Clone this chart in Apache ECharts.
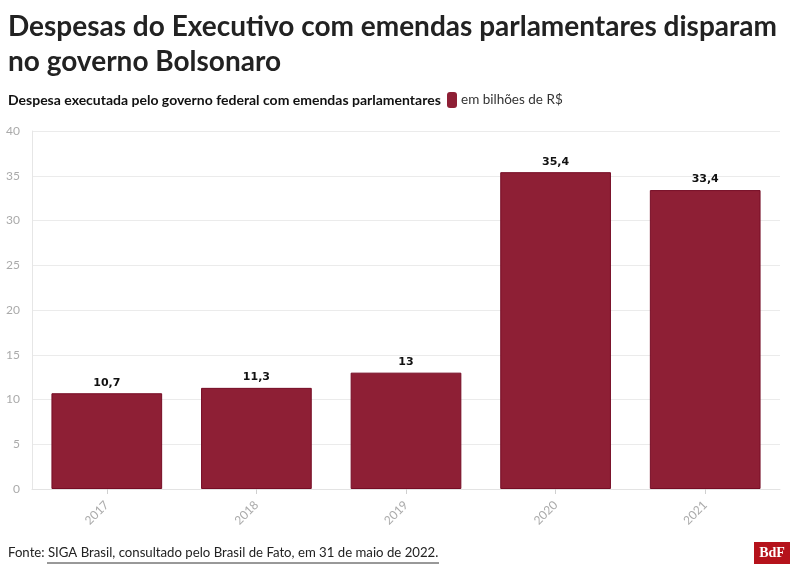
<!DOCTYPE html>
<html><head><meta charset="utf-8">
<script src="https://cdn.jsdelivr.net/npm/echarts@6/dist/echarts.min.js"></script>
<style>html,body{margin:0;padding:0;background:#fff}#c{width:800px;height:577px}</style>
</head><body><div id="c"></div>
<script>
const categories = ['2017','2018','2019','2020','2021'];
const values = [10.7, 11.3, 13, 35.4, 33.4];
const yTicks = [0,5,10,15,20,25,30,35,40];

const FONT = 'Lato';
const chart = echarts.init(document.getElementById('c'), null, {renderer:'canvas'});
chart.setOption({
  animation:false,
  backgroundColor:'#fff',
  grid:{left:32,right:20,top:131,bottom:88},
  xAxis:{type:'category',data:categories,
    axisLine:{show:true,lineStyle:{color:'#e3e3e3'}},
    axisTick:{show:true,alignWithLabel:true,length:5,lineStyle:{color:'#d0d0d0'}},
    axisLabel:{rotate:45,color:'#aaa',fontFamily:FONT,fontSize:12,margin:14}},
  yAxis:{type:'value',min:0,max:40,interval:5,
    axisLine:{show:true,lineStyle:{color:'#e6e6e6'}},
    axisTick:{show:false},
    splitLine:{lineStyle:{color:'#ebebeb',width:1}},
    axisLabel:{color:'#aaa',fontFamily:FONT,fontSize:12,margin:12}},
  series:[{type:'bar',data:values,barCategoryGap:'26%',
    itemStyle:{color:'#8e1f35',borderColor:'#760c25',borderWidth:1},
    label:{show:true,position:'top',distance:5,color:'#111',fontWeight:'bold',fontFamily:'DejaVu Sans',fontSize:11,
      formatter:p=>String(p.value).replace('.',',')}}],
  graphic:[
    {type:'text',left:8,top:9,style:{text:'Despesas do Executivo com emendas parlamentares disparam\nno governo Bolsonaro',
      fill:'#222',font:'bold 28px '+FONT,lineHeight:35}},
    {type:'text',left:8,top:93,style:{text:'Despesa executada pelo governo federal com emendas parlamentares',fill:'#111',font:'bold 14px '+FONT}},
    {type:'rect',shape:{x:447,y:92,width:10,height:16,r:3},style:{fill:'#8e1f35'}},
    {type:'text',left:461,top:93,style:{text:'em bilhões de R$',fill:'#333',font:'13.5px '+FONT}},
    {type:'text',left:8,top:546,style:{text:'Fonte: SIGA Brasil, consultado pelo Brasil de Fato, em 31 de maio de 2022.',fill:'#222',font:'13.2px '+FONT}},
    {type:'line',shape:{x1:47,y1:563,x2:439,y2:563},style:{stroke:'#333',lineWidth:1}},
    {type:'rect',shape:{x:754,y:542,width:36,height:22},style:{fill:'#b5121b'}},
    {type:'text',x:772,y:553,style:{text:'BdF',fill:'#fff',font:'bold 14px "Liberation Serif"',align:'center',verticalAlign:'middle'}}
  ]
});
</script></body></html>
